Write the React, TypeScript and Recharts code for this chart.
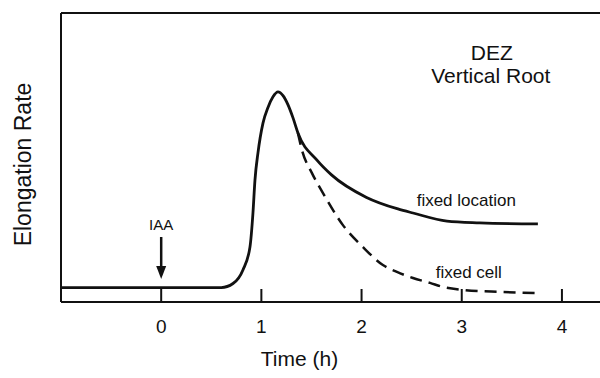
import { Line, LineChart, ReferenceDot, ReferenceLine, XAxis, YAxis } from "recharts";

const FONT = '"Liberation Sans", Arial, Helvetica, sans-serif';
const INK = "#111";

// time in hours, elongation rate in relative units (0–100 spans the frame)
const LOCATION_T = [-1, 0.6, 0.717, 0.816, 0.886, 0.916, 0.936, 0.966, 1.016, 1.066, 1.116, 1.166, 1.216, 1.265, 1.315, 1.365, 1.555, 1.7, 2.05, 2.363, 2.513, 2.852, 3.18, 3.76];
const LOCATION_RATE = [5, 5, 6.4, 11.1, 19, 30.8, 42.2, 51.6, 61.9, 67.3, 71.0, 72.7, 71.4, 68.3, 63.8, 58.5, 49.1, 44, 36.2, 32.2, 30.8, 28, 27.4, 27];

const CELL_T = [1.365, 1.405, 1.505, 1.615, 1.814, 2.014, 2.213, 2.353, 2.513, 2.683, 2.812, 3.012, 3.38, 3.75];
const CELL_RATE = [58.5, 52.6, 44.6, 37.7, 26.6, 19, 12.8, 10.4, 8.3, 6.6, 5.2, 4.2, 3.5, 3.1];

const TIME_TICKS = [0, 1, 2, 3, 4];
const TIME_DOMAIN = [-1, 4.38];
const RATE_DOMAIN = [0, 100];

// IAA added at t = 0; arrow runs from top to tip
const IAA_T = 0;
const IAA_ARROW = [22.5, 8];

const locationData = LOCATION_T.map((t, i) => ({ t, rate: LOCATION_RATE[i] }));
const cellData = CELL_T.map((t, i) => ({ t, rate: CELL_RATE[i] }));

const notes = [
  { text: "DEZ", t: 3.3, v: 83.7, size: 21, anchor: "middle" },
  { text: "Vertical Root", t: 3.29, v: 75.8, size: 21, anchor: "middle" },
  { text: "fixed location", t: 2.55, v: 33.2, size: 17, anchor: "start" },
  { text: "fixed cell", t: 2.74, v: 8.3, size: 17, anchor: "start" },
  { text: "IAA", t: IAA_T, v: 24.9, size: 15, anchor: "middle" },
];

const Arrow = (p: any) => {
  const { x1, y1, x2, y2 } = p;
  return (
    <g>
      <line x1={x1} y1={y1} x2={x2} y2={y2 - 8} stroke={INK} strokeWidth={2.5} />
      <path d={`M${x2 - 5},${y2 - 13} L${x2 + 5},${y2 - 13} L${x2},${y2} Z`} fill={INK} />
    </g>
  );
};

const noteShape = (n: (typeof notes)[number]) => (p: any) => (
  <text x={p.cx} y={p.cy} textAnchor={n.anchor} fontSize={n.size} fontFamily={FONT} fill={INK}>
    {n.text}
  </text>
);

const TimeTitle = (p: any) => {
  const vb = p.viewBox;
  return (
    <text x={vb.x + vb.width * 0.4425} y={vb.y + 64} textAnchor="middle" fontSize={21} fontFamily={FONT} fill={INK}>
      Time (h)
    </text>
  );
};

const RateTitle = (p: any) => {
  const vb = p.viewBox;
  const x = 31;
  const y = vb.y + vb.height / 2 + 7;
  return (
    <text x={x} y={y} transform={`rotate(-90 ${x} ${y})`} textAnchor="middle" fontSize={23} fontFamily={FONT} fill={INK}>
      Elongation Rate
    </text>
  );
};

export default function App() {
  return (
    <div style={{ position: "absolute", left: 0, top: 0, background: "#fff" }}>
      <LineChart width={600} height={378} margin={{ top: 13, right: 0, bottom: 75, left: 60 }}>
        <XAxis
          type="number"
          dataKey="t"
          domain={TIME_DOMAIN}
          ticks={TIME_TICKS}
          allowDataOverflow
          height={1}
          axisLine={{ stroke: INK, strokeWidth: 2 }}
          tickLine={{ stroke: INK, strokeWidth: 2 }}
          tickSize={-13}
          tickMargin={30.5}
          tick={{ fontSize: 19, fontFamily: FONT, fill: INK }}
          label={{ content: TimeTitle }}
        />
        <YAxis
          type="number"
          domain={RATE_DOMAIN}
          allowDataOverflow
          width={1}
          tick={false}
          tickLine={false}
          axisLine={{ stroke: INK, strokeWidth: 2 }}
          label={{ content: RateTitle }}
        />
        <ReferenceLine y={RATE_DOMAIN[1]} stroke={INK} strokeWidth={2} />
        <Line
          data={locationData}
          dataKey="rate"
          type="monotone"
          stroke={INK}
          strokeWidth={2.8}
          dot={false}
          isAnimationActive={false}
        />
        <Line
          data={cellData}
          dataKey="rate"
          type="monotone"
          stroke={INK}
          strokeWidth={2.5}
          strokeDasharray="12 7"
          dot={false}
          isAnimationActive={false}
        />
        <ReferenceLine
          segment={[
            { x: IAA_T, y: IAA_ARROW[0] },
            { x: IAA_T, y: IAA_ARROW[1] },
          ]}
          shape={Arrow}
        />
        {notes.map((n) => (
          <ReferenceDot key={n.text} x={n.t} y={n.v} r={0} shape={noteShape(n)} />
        ))}
      </LineChart>
    </div>
  );
}
